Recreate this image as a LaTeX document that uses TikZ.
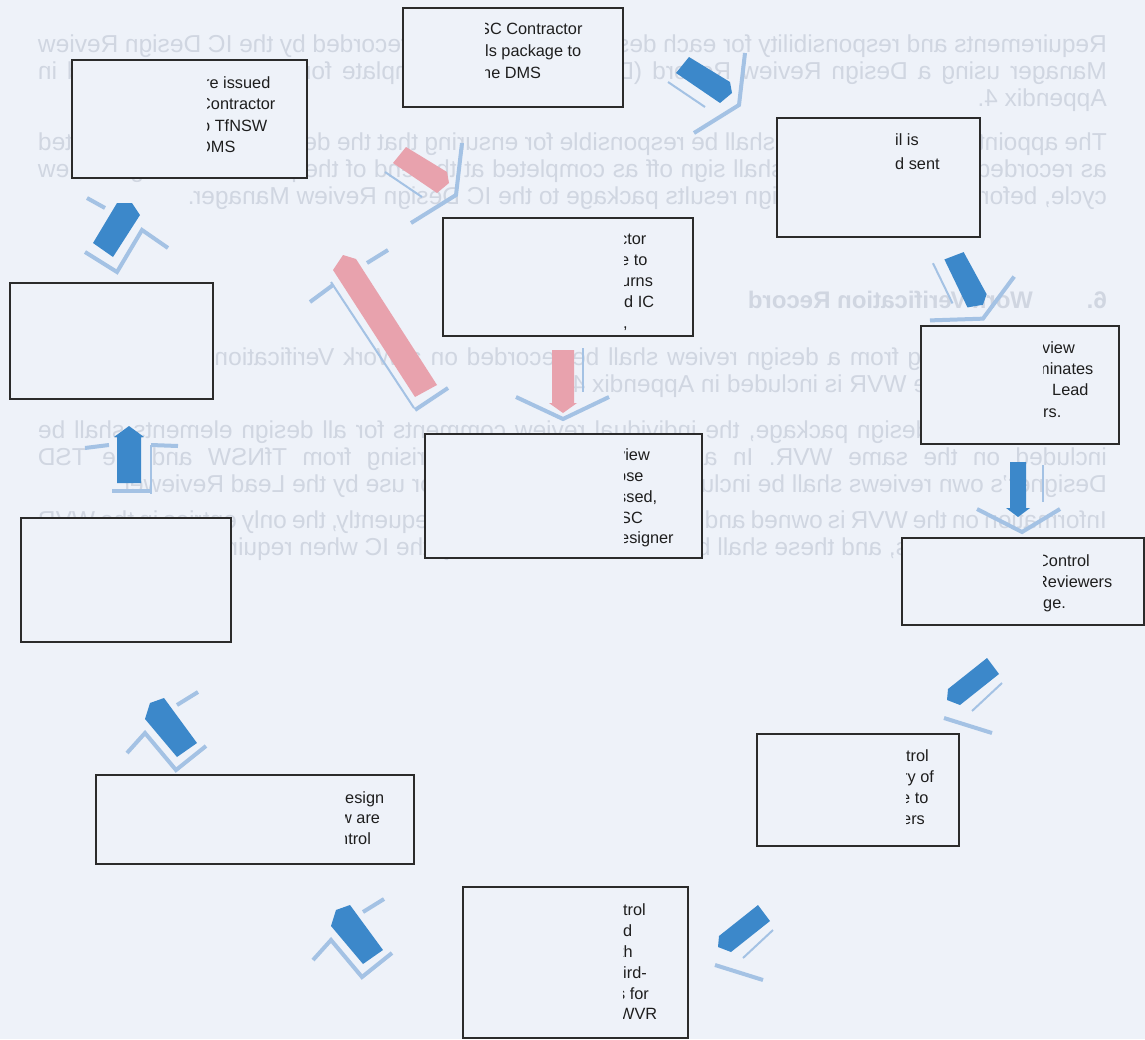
\documentclass[tikz,border=0pt]{standalone}
\usepackage{fontspec}
\setmainfont{Liberation Sans}
\definecolor{bg}{HTML}{EEF2F9}
\definecolor{ghost}{HTML}{D0D6E1}
\definecolor{boxline}{HTML}{2B2B2B}
\definecolor{arrblue}{HTML}{3C88CA}
\definecolor{arrpink}{HTML}{E8A2AD}
\definecolor{lite}{HTML}{A4C2E4}
\definecolor{txt}{HTML}{1E1E1E}
\newcommand{\diagArrow}[3]{%
  \begin{scope}[shift={#1}, rotate=#2]
    \fill[#3] (-29,-7) -- (-16,-23) -- (25,2) -- (27,13) -- (15,23) -- cycle;
    \draw[pline] (-37,2) -- (0,27);
    \draw[chev] (40,-27) -- (34,25) -- (-11,53);
  \end{scope}}
\newcommand{\dlArrow}[1]{%
  \begin{scope}[shift={#1}]
    \fill[arrblue] (758,905) -- (770,921) -- (731,952) -- (718,947) -- (719,936) -- cycle;
    \draw[pline] (743,958) -- (773,930);
    \draw[chev] (715,965) -- (763,980);
  \end{scope}}
\newcommand{\ulArrow}[1]{%
  \begin{scope}[shift={#1}]
    \fill[arrblue] (331,926) -- (336,910) -- (350,905) -- (383,950) -- (363,964) -- cycle;
    \draw[chev] (363,912) -- (384,899);
    \draw[chev] (313,960) -- (331,940) -- (362,977) -- (392,953);
  \end{scope}}
\begin{document}
\begin{tikzpicture}[x=1pt,y=-1pt,
  dbox/.style={draw=boxline, line width=1.6pt, fill=bg, inner sep=0pt, anchor=north west},
  bt/.style={anchor=base west, inner sep=0pt, text=txt, font=\fontsize{16.3}{18}\selectfont},
  gt/.style={anchor=base west, inner sep=0pt, text=ghost, font=\fontsize{24.5}{27}\selectfont, transform shape},
  gh/.style={anchor=base west, inner sep=0pt, text=ghost, font=\fontsize{24}{27}\selectfont\bfseries, transform shape},
  chev/.style={draw=lite, line width=4pt, line join=miter},
  pline/.style={draw=lite, line width=2pt},
]
\fill[bg] (0,0) rectangle (1145,1039);
\useasboundingbox (0,0) rectangle (1145,1039);

% show-through text (mirrored)
\begin{scope}[shift={(1145,0)}, xscale=-1]
  \node[gt] (g1) at (38,52) {\makebox[1069pt][s]{Requirements and responsibility for each design review shall be recorded by the IC Design Review}};
  \node[gt] (g2) at (38,79) {\makebox[1069pt][s]{Manager using a Design Review Record (DRR) form. The template for the DRR is included in}};
  \node[gt] (g3) at (38,106) {Appendix 4.};
  \node[gt] (g4) at (38,150) {\makebox[1069pt][s]{The appointed Lead Reviewer shall be responsible for ensuring that the design review is completed}};
  \node[gt] (g5) at (38,177) {\makebox[1069pt][s]{as recorded on the DRR and shall sign off as completed at the end of the particular design review}};
  \node[gt] (g6) at (38,204) {cycle, before returning the design results package to the IC Design Review Manager.};
  \node[gh] (g7) at (38,308) {6.};
  \node[gh] (g8) at (112,308) {Work Verification Record};
  \node[gt] (g9) at (38,365) {\makebox[1069pt][s]{Comments arising from a design review shall be recorded on a Work Verification Record (WVR).}};
  \node[gt] (g10) at (38,392) {A template for the WVR is included in Appendix 4.};
  \node[gt] (g11) at (38,438) {\makebox[1069pt][s]{For a particular design package, the individual review comments for all design elements shall be}};
  \node[gt] (g12) at (38,465) {\makebox[1069pt][s]{included on the same WVR. In addition, all comments arising from TfNSW and the TSD}};
  \node[gt] (g13) at (38,492) {Designer's own reviews shall be included on the same WVR, for use by the Lead Reviewer.};
  \node[gt] (g14) at (38,528) {\makebox[1069pt][s]{Information on the WVR is owned and managed by the IC. Consequently, the only entries in the WVR}};
  \node[gt] (g15) at (38,555) {are made by others, and these shall be made as instructed by the IC when required.};
\end{scope}

% boxes
\node[dbox, minimum width=220pt, minimum height=99pt] (A) at (402,7) {};
\node[dbox, minimum width=203pt, minimum height=119pt] (B) at (776,117) {};
\node[dbox, minimum width=198pt, minimum height=118pt] (C) at (920,325) {};
\node[dbox, minimum width=242pt, minimum height=87pt] (D) at (901,537) {};
\node[dbox, minimum width=202pt, minimum height=112pt] (E) at (756,733) {};
\node[dbox, minimum width=225pt, minimum height=151pt] (F) at (462,886) {};
\node[dbox, minimum width=318pt, minimum height=89pt] (G) at (95,774) {};
\node[dbox, minimum width=210pt, minimum height=124pt] (H) at (20,517) {};
\node[dbox, minimum width=203pt, minimum height=116pt] (I) at (9,282) {};
\node[dbox, minimum width=235pt, minimum height=118pt] (J) at (71,59) {};
\node[dbox, minimum width=250pt, minimum height=118pt] (K) at (442,217) {};
\node[dbox, minimum width=277pt, minimum height=124pt] (L) at (424,433) {};

% box texts (clipped at the left as in the scan)
\begin{scope}
  \clip (207,60) rectangle (305,176);
  \node[bt] (J1) at (204,88) {re issued};
  \node[bt] (J2) at (199,109) {Contractor};
  \node[bt] (J3) at (201,131) {o TfNSW};
  \node[bt] (J4) at (199,152) {DMS};
\end{scope}
\begin{scope}
  \clip (485,8) rectangle (621,105);
  \node[bt] (A1) at (479,34) {SC Contractor};
  \node[bt] (A2) at (485,56) {ls package to};
  \node[bt] (A3) at (482,78) {he DMS};
\end{scope}
\begin{scope}
  \clip (893,118) rectangle (978,235);
  \node[bt] (B1) at (895,145) {il is};
  \node[bt] (B2) at (895,169) {d sent};
\end{scope}
\begin{scope}
  \clip (624,218) rectangle (691,334);
  \node[bt] (K1) at (619,244) {ctor};
  \node[bt] (K2) at (620,265) {e to};
  \node[bt] (K3) at (621,286) {urns};
  \node[bt] (K4) at (624,307) {d IC};
  \node[bt] (K5) at (623,328) {,};
\end{scope}
\begin{scope}
  \clip (624,434) rectangle (700,556);
  \node[bt] (L1) at (617,460) {view};
  \node[bt] (L2) at (617,481) {ose};
  \node[bt] (L3) at (618,502) {ssed,};
  \node[bt] (L4) at (620,523) {SC};
  \node[bt] (L5) at (620,543) {esigner};
\end{scope}
\begin{scope}
  \clip (1043,326) rectangle (1117,442);
  \node[bt] (C1) at (1042,353) {view};
  \node[bt] (C2) at (1036,374) {minates};
  \node[bt] (C3) at (1052,395) {Lead};
  \node[bt] (C4) at (1043,417) {rs.};
\end{scope}
\begin{scope}
  \clip (1043,538) rectangle (1142,623);
  \node[bt] (D1) at (1037,566) {Control};
  \node[bt] (D2) at (1036,587) {Reviewers};
  \node[bt] (D3) at (1043,608) {ge.};
\end{scope}
\begin{scope}
  \clip (906,734) rectangle (957,844);
  \node[bt] (E1) at (906,761) {trol};
  \node[bt] (E2) at (902,782) {ry of};
  \node[bt] (E3) at (901,803) {e to};
  \node[bt] (E4) at (902,824) {ers};
\end{scope}
\begin{scope}
  \clip (623,887) rectangle (686,1036);
  \node[bt] (F1) at (623,915) {trol};
  \node[bt] (F2) at (623,936) {d};
  \node[bt] (F3) at (619,957) {th};
  \node[bt] (F4) at (623,978) {ird-};
  \node[bt] (F5) at (617,999) {s for};
  \node[bt] (F6) at (619,1019) {WVR};
\end{scope}
\begin{scope}
  \clip (345,775) rectangle (412,862);
  \node[bt] (G1) at (345,803) {esign};
  \node[bt] (G2) at (340,823) {w are};
  \node[bt] (G3) at (339,844) {ntrol};
\end{scope}

% 3-D block arrows
\diagArrow{(705,80)}{0}{arrblue}
\diagArrow{(966,280)}{-30}{arrblue}
\diagArrow{(422,170)}{0}{arrpink}
% C -> D (down)
\fill[arrblue] (1010,462) -- (1026,462) -- (1026,508) -- (1030,508) -- (1018,517) -- (1006,508) -- (1010,508) -- cycle;
\draw[pline] (1043,465) -- (1043,502);
\draw[chev] (977,509) -- (1022,532) -- (1060,509);
% D -> E and E -> F
\dlArrow{(229,-247)}
\dlArrow{(0,0)}
% F -> G and G -> H
\ulArrow{(0,0)}
\ulArrow{(-186,-207)}
% H -> I (up)
\fill[arrblue] (117,483) -- (117,437) -- (114,437) -- (129,426) -- (144,437) -- (141,437) -- (141,483) -- cycle;
\draw[chev] (85,448) -- (109,445);
\draw[chev] (178,446) -- (151,445);
\draw[pline] (151,445) -- (151,494);
\draw[chev] (112,491) -- (151,491);
% I -> J (up-right)
\fill[arrblue] (93,243) -- (117,203) -- (132,203) -- (140,215) -- (113,257) -- cycle;
\draw[chev] (87,198) -- (105,208);
\draw[chev] (85,252) -- (117,272) -- (142,230) -- (168,248);
% K -> L (pink, down)
\fill[arrpink] (552,350) -- (574,350) -- (574,403) -- (577,403) -- (563,413) -- (549,403) -- (552,403) -- cycle;
\draw[pline] (583,348) -- (583,392);
\draw[chev] (516,397) -- (563,419) -- (609,397);
% long pink arrow (up-left)
\fill[arrpink] (415,397) -- (333,270) -- (343,255) -- (356,259) -- (437,385) -- cycle;
\draw[chev] (310,302) -- (333,285);
\draw[chev] (367,263) -- (388,250);
\draw[pline] (331,282) -- (414,408);
\draw[chev] (415,410) -- (448,388);
\end{tikzpicture}
\end{document}
